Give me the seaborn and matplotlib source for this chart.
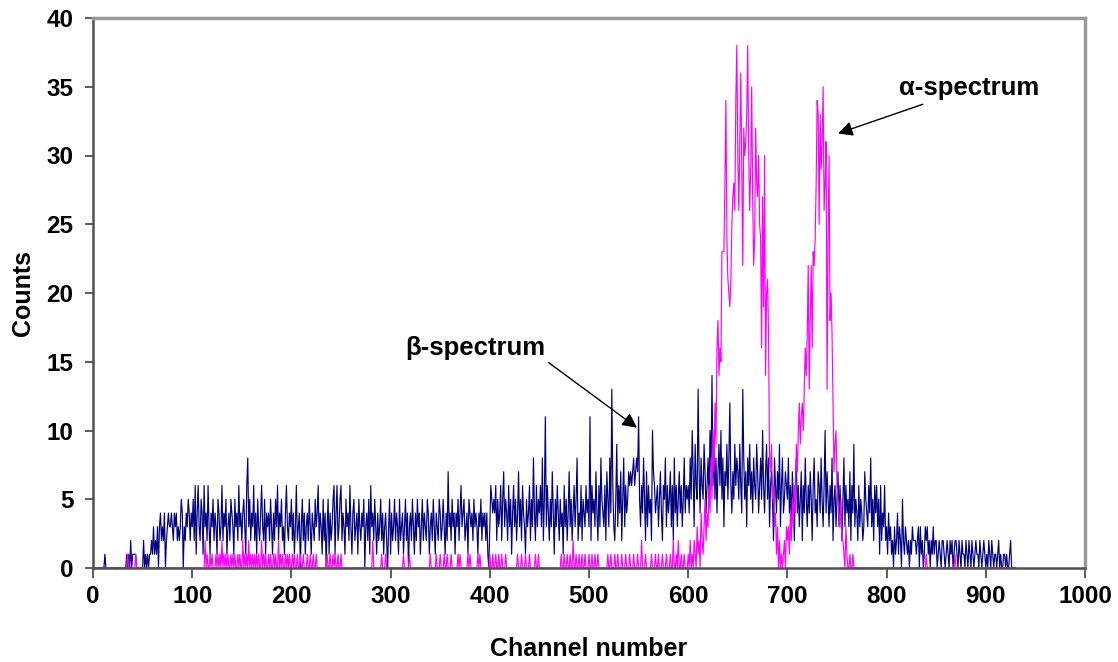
import numpy as np
import pandas as pd
import matplotlib
matplotlib.use("Agg")
import matplotlib.pyplot as plt
import seaborn as sns

# ---------------- data (counts per channel) ----------------
beta_000 = [0,0,0,0,0,0,0,0,0,0, 0,0,1,0,0,0,0,0,0,0, 0,0,0,0,0,0,0,0,0,0,
            0,0,0,0,1,0,1,0,2,0, 1,1,1,1,0,0,0,0,0,0]
beta_050 = [0,2,0,1,0,1,0,1,1,2, 1,3,1,2,1,3,0,3,4,2, 3,2,4,0,2,3,4,3,3,4,
            3,2,4,3,4,2,3,2,3,5, 4,0,3,2,4,3,5,4,2,4]
beta_100 = [3,5,2,6,1,4,6,3,2,5, 4,1,6,3,4,2,6,3,1,4, 3,5,2,4,3,1,5,4,2,3,
            6,2,4,3,5,1,3,4,2,5, 4,3,1,5,3,4,2,6,3,4]
beta_150 = [2,4,5,3,1,6,8,3,5,2, 4,3,6,2,4,1,5,3,2,4, 6,3,2,5,1,4,3,4,2,5,
            3,1,4,2,5,3,6,2,4,3, 5,2,3,1,4,6,3,2,4,3]
beta_200 = [5,2,4,1,3,6,2,3,4,0, 3,5,2,4,1,3,4,2,5,3, 1,4,3,2,5,3,4,6,2,4,
            3,1,5,2,4,0,3,5,1,4, 2,3,5,6,1,4,6,2,3,5]
beta_250 = [6,2,4,3,1,5,3,4,2,6, 3,1,4,5,2,3,4,1,5,3, 2,4,3,5,0,3,4,2,5,1,
            6,3,4,2,5,3,1,4,2,3, 5,2,4,1,3,4,2,0,3,5]
beta_300 = [1,4,2,3,5,2,4,3,1,5, 2,3,4,1,3,5,2,4,0,3, 4,2,5,3,1,4,2,5,3,4,
            1,3,5,2,4,3,2,5,4,1, 3,4,2,5,3,1,4,3,2,5]
beta_350 = [4,2,3,5,3,1,4,2,7,3, 4,2,5,3,4,1,4,3,5,2, 4,6,3,4,5,2,3,4,1,5,
            4,3,4,2,5,3,4,3,1,4, 3,5,2,4,3,4,2,4,1,0]
beta_400 = [3,6,5,4,5,4,6,2,5,3, 4,6,2,5,7,3,5,4,2,6, 3,5,1,4,6,3,5,2,4,7,
            3,5,2,6,4,3,1,5,3,4, 6,2,5,3,8,4,2,6,3,5]
beta_450 = [4,6,3,8,2,5,11,3,6,4, 2,5,3,7,4,1,5,3,6,4, 2,5,3,4,1,6,3,5,2,4,
            7,3,5,2,4,6,3,5,8,2, 4,3,6,2,5,4,3,6,4,5]
beta_500 = [3,11,2,6,4,5,3,7,4,2, 6,3,8,5,4,3,6,2,7,5, 3,8,4,13,6,3,2,5,9,3,
            6,4,7,2,5,8,3,6,4,5, 7,6,7,6,7,8,6,7,8,7]
beta_550 = [11,5,3,6,4,8,5,2,7,3, 6,4,5,2,10,7,6,4,5,6, 3,5,7,4,2,6,5,8,3,6,
            4,5,7,3,6,2,8,4,6,3, 5,7,4,6,3,5,8,4,6,5]
beta_600 = [6,4,8,5,10,7,3,9,6,5, 13,7,4,8,6,5,9,7,4,6, 8,5,10,7,14,6,9,5,8,4,
            7,9,6,10,5,8,3,7,6,9, 5,8,12,6,4,7,5,9,6,8]
beta_650 = [7,5,9,6,4,13,8,5,7,3, 8,6,9,5,7,4,8,6,5,9, 7,4,6,8,5,10,6,4,7,9,
            5,8,3,6,7,5,2,8,6,4, 7,5,9,3,6,8,4,5,7,6]
beta_700 = [5,8,4,6,3,7,5,2,6,8, 4,6,3,5,7,2,6,4,8,5, 3,6,4,7,5,2,6,8,4,5,
            3,7,6,4,8,5,3,6,10,4, 7,5,3,6,4,8,2,5,6,3]
beta_750 = [5,7,3,6,4,2,5,8,3,6, 4,5,3,7,2,6,4,9,3,5, 4,2,6,3,5,4,2,3,7,5,
            4,3,6,4,8,3,5,2,6,4, 6,3,5,1,6,2,4,3,6,2]
beta_800 = [3,1,4,2,3,1,2,0,3,1, 2,4,1,3,2,0,5,2,1,3, 2,1,2,0,2,1,3,2,2,2,
            1,2,3,0,3,1,2,0,1,3, 2,3,1,2,0,2,1,3,1,2]
beta_850 = [2,0,1,2,1,0,2,2,1,0, 1,2,1,0,2,1,2,0,1,2, 2,1,0,2,1,0,2,1,1,0,
            2,1,0,2,1,0,2,1,0,1, 2,1,1,0,2,1,0,1,2,1]
beta_900 = [0,1,0,2,1,0,2,1,0,1, 1,0,1,2,0,1,0,0,1,1, 0,1,0,0,1,2,0,0,0,0, 0]

# alpha: isolated single counts in the low-energy tail (channel, count)
alpha_tail_channels = [35,43,113,115,118,120,124,126,128,130,132,134,136,139,141,143,146,148,
                       151,153,155,157,159,161,163,165,167,170,172,174,177,179,182,184,187,189,
                       191,194,196,198,201,203,206,209,212,216,219,222,225,236,239,242,244,247,
                       250,282,291,295,313,319,340,346,350,354,357,361,368,370,378,380,388,390,
                       400,403,406,409,412,416,428,432,436,440,446,449,472,475,478,481,484,487,
                       490,493,496,500,503,506,509,519,522,526,529,533,537,541,545,549,553,557,
                       563,567,570,574,578,582,585,588,590,593,596,840,869]
alpha_tail_counts = [1,1,2,1,1,1,1,1,1,2,1,1,1,1,1,1,1,1,
                     2,1,1,2,1,1,1,1,1,2,1,1,1,1,1,1,2,1,
                     1,1,1,1,1,1,1,1,1,1,1,1,1,1,1,1,1,1,
                     1,2,1,1,1,1,1,1,1,1,1,1,1,1,1,1,1,1,
                     1,1,1,1,1,1,1,1,1,1,1,1,1,1,1,1,2,1,
                     1,1,1,1,1,1,1,1,1,1,1,1,1,1,1,1,2,1,
                     1,1,1,1,1,1,2,1,2,1,1,1,1]
# alpha: the two peaks, channels 600..767
alpha_peak_start = 600
alpha_peak = [1,0,2,0,1,0,2,1,0,3, 1,2,0,4,2,1,3,5,2,4, 3,6,4,8,5,10,7,12,9,16,
              18,14,16,15,23,23,23,28,34,24, 21,20,19,21,25,27,28,26,34,38,
              30,26,31,36,29,22,32,30,31,33, 38,30,26,29,35,27,22,24,32,28,
              27,30,25,24,16,27,19,30,14,20, 21,17,8,7,9,5,6,3,4,1,
              3,0,2,0,1,0,1,2,0,3, 2,3,1,4,2,5,3,6,4,9,
              7,10,12,9,11,12,10,13,16,14, 17,22,13,18,22,16,23,22,24,28,
              34,33,25,33,29,31,35,26,28,31, 13,24,30,18,20,17,12,7,9,10,
              6,5,4,3,5,2,2,1,0,3, 1,0,0,1,0,0,1,0]

x_ticks = list(range(0, 1001, 100))
y_ticks = list(range(0, 41, 5))

# ---------------- build tables ----------------
beta = (beta_000 + beta_050 + beta_100 + beta_150 + beta_200 + beta_250 + beta_300 +
        beta_350 + beta_400 + beta_450 + beta_500 + beta_550 + beta_600 + beta_650 +
        beta_700 + beta_750 + beta_800 + beta_850 + beta_900)
n = len(beta)
alpha = np.zeros(n)
for c, v in zip(alpha_tail_channels, alpha_tail_counts):
    if c < n:
        alpha[c] = v
for i, v in enumerate(alpha_peak):
    alpha[alpha_peak_start + i] = v

df_b = pd.DataFrame({"channel": np.arange(n), "counts": beta})
df_a = pd.DataFrame({"channel": np.arange(n), "counts": alpha})

# ---------------- plot ----------------
sns.set_style("white")
plt.rcParams["font.family"] = ["Liberation Sans", "DejaVu Sans"]
plt.rcParams["font.weight"] = "bold"
plt.rcParams["text.color"] = "black"
plt.rcParams["axes.labelcolor"] = "black"
plt.rcParams["xtick.color"] = "black"
plt.rcParams["ytick.color"] = "black"

fig = plt.figure(figsize=(11.18, 6.62), dpi=100)
ax = fig.add_axes([93/1118, 94/662, (1085-93)/1118, (568-18)/662])

sns.lineplot(data=df_b, x="channel", y="counts", color="#000080", lw=0.85, ax=ax,
             estimator=None, sort=False)
sns.lineplot(data=df_a, x="channel", y="counts", color="#FF00FF", lw=0.85, ax=ax,
             estimator=None, sort=False)

ax.set_xlim(0, 1000)
ax.set_ylim(0, 40)
ax.set_xticks(x_ticks)
ax.set_yticks(y_ticks)
ax.set_xticklabels([str(t) for t in x_ticks], fontsize=17.5, fontweight="bold")
ax.set_yticklabels([str(t) for t in y_ticks], fontsize=17.5, fontweight="bold")
ax.tick_params(axis="x", direction="out", length=7, width=1.2, color="#404040", pad=5,
               bottom=True, labelcolor="black")
ax.tick_params(axis="y", direction="out", length=6, width=1.2, color="#404040", pad=8,
               left=True, labelcolor="black")
ax.set_xlabel("Channel number", fontsize=18, fontweight="bold", labelpad=21, color="black")
ax.set_ylabel("Counts", fontsize=18, fontweight="bold", labelpad=8, color="black")

for side in ["left", "bottom"]:
    ax.spines[side].set_color("#505050")
    ax.spines[side].set_linewidth(1.8)
for side in ["top", "right"]:
    ax.spines[side].set_color("#999999")
    ax.spines[side].set_linewidth(2.5)

ax.annotate("α-spectrum", xy=(751, 31.6), xytext=(813, 34.9), fontsize=18.5,
            fontweight="bold", ha="left", va="center", color="black",
            arrowprops=dict(arrowstyle="-|>", color="black", lw=1.0, mutation_scale=22,
                            shrinkA=2, shrinkB=0))
ax.annotate("β-spectrum", xy=(548.4, 10.2), xytext=(314.5, 16.0), fontsize=18.5,
            fontweight="bold", ha="left", va="center", color="black",
            arrowprops=dict(arrowstyle="-|>", color="black", lw=1.0, mutation_scale=22,
                            shrinkA=0, shrinkB=0, relpos=(1.0, 0.0)))

fig.savefig("out.png", dpi=100)
